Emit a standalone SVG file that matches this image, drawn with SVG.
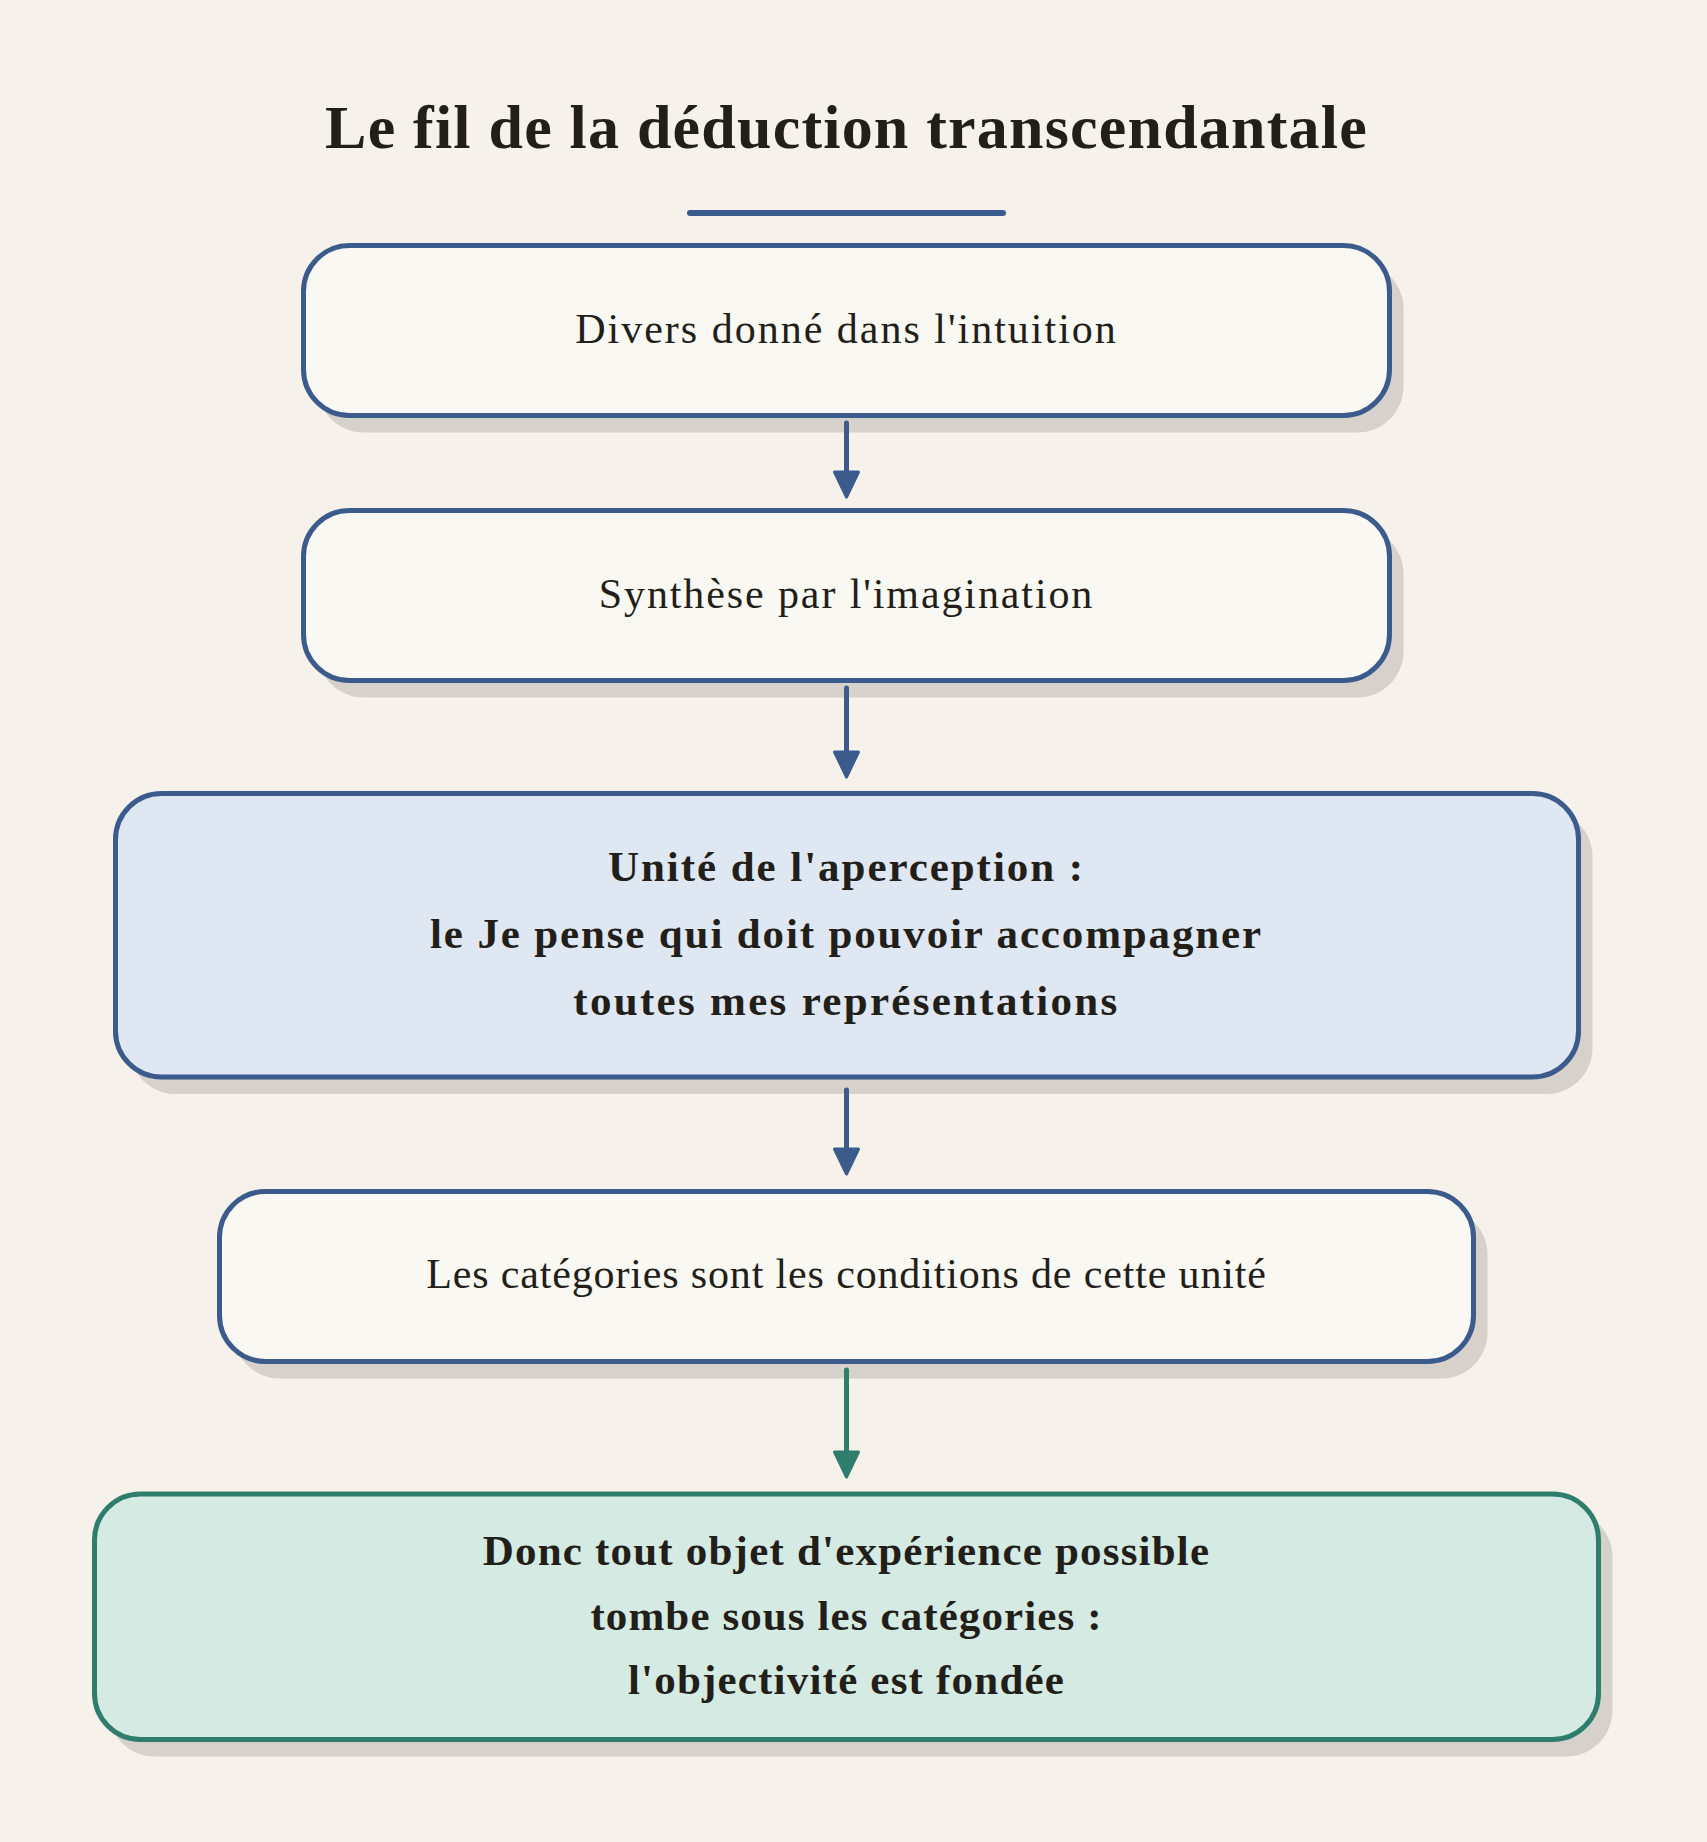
<svg xmlns="http://www.w3.org/2000/svg" width="1707" height="1842" viewBox="0 0 1707 1842">
  <style>
    .bg { fill: #F6F2EB; }
    .shadow { fill: #D6D1CA; }
    .box { fill: #FAF8F2; stroke: #3B5B8C; stroke-width: 5; }
    .box-key { fill: #DFE7F2; stroke: #3B5B8C; stroke-width: 5; }
    .box-end { fill: #D5EAE2; stroke: #2F7D6D; stroke-width: 5; }
    .title { font-family: "Liberation Serif", serif; font-weight: bold; font-size: 62px; letter-spacing: 1.2px; fill: #221E19; text-anchor: middle; }
    .lbl { font-family: "Liberation Serif", serif; font-size: 42px; letter-spacing: 1.3px; fill: #221E19; text-anchor: middle; }
    .lbl-b { font-family: "Liberation Serif", serif; font-weight: bold; font-size: 43px; letter-spacing: 1.6px; fill: #221E19; text-anchor: middle; }
    .edge { fill: none; stroke-width: 5; stroke-linecap: round; }
    .edge-blue { stroke: #3B5B8C; }
    .edge-green { stroke: #2F7D6D; }
  </style>
  <defs>
    <marker id="ah-blue" markerUnits="userSpaceOnUse" viewBox="0 0 30 30" markerWidth="30" markerHeight="30" refX="8" refY="15" orient="auto">
      <path d="M3,3 L28,15 L3,27 Z" fill="#3B5B8C" stroke="#3B5B8C" stroke-width="3" stroke-linejoin="round"/>
    </marker>
    <marker id="ah-green" markerUnits="userSpaceOnUse" viewBox="0 0 30 30" markerWidth="30" markerHeight="30" refX="8" refY="15" orient="auto">
      <path d="M3,3 L28,15 L3,27 Z" fill="#2F7D6D" stroke="#2F7D6D" stroke-width="3" stroke-linejoin="round"/>
    </marker>
  </defs>

  <rect class="bg" x="0" y="0" width="1707" height="1842"/>

  <g id="title">
    <text class="title" x="846.5" y="148">Le fil de la déduction transcendantale</text>
    <line x1="690" y1="213" x2="1003" y2="213" stroke="#3B5B8C" stroke-width="6" stroke-linecap="round"/>
  </g>

  <g id="node-divers">
    <rect class="shadow" x="317.5" y="262.5" width="1086" height="170" rx="46"/>
    <rect class="box" x="303.5" y="245.5" width="1086" height="170" rx="46"/>
    <text class="lbl" x="846.5" y="343" style="letter-spacing:2px">Divers donné dans l'intuition</text>
  </g>

  <g id="node-synthese">
    <rect class="shadow" x="317.5" y="527.5" width="1086" height="170" rx="46"/>
    <rect class="box" x="303.5" y="510.5" width="1086" height="170" rx="46"/>
    <text class="lbl" x="846.5" y="608" style="letter-spacing:1.9px">Synthèse par l'imagination</text>
  </g>

  <g id="node-aperception">
    <rect class="shadow" x="129.5" y="810.5" width="1463" height="283.5" rx="46"/>
    <rect class="box-key" x="115.5" y="793.5" width="1463" height="283.5" rx="46"/>
    <text class="lbl-b" x="846.5" y="881" style="letter-spacing:1.95px">Unité de l'aperception :</text>
    <text class="lbl-b" x="846.5" y="948" style="letter-spacing:1.85px">le Je pense qui doit pouvoir accompagner</text>
    <text class="lbl-b" x="846.5" y="1015" style="letter-spacing:2.3px">toutes mes représentations</text>
  </g>

  <g id="node-categories">
    <rect class="shadow" x="233.5" y="1208.5" width="1254" height="170" rx="46"/>
    <rect class="box" x="219.5" y="1191.5" width="1254" height="170" rx="46"/>
    <text class="lbl" x="846.5" y="1288" style="letter-spacing:0.85px">Les catégories sont les conditions de cette unité</text>
  </g>

  <g id="node-objectivite">
    <rect class="shadow" x="108.5" y="1511" width="1504" height="245.5" rx="46"/>
    <rect class="box-end" x="94.5" y="1494" width="1504" height="245.5" rx="46"/>
    <text class="lbl-b" x="846.5" y="1565" style="letter-spacing:1.2px">Donc tout objet d'expérience possible</text>
    <text class="lbl-b" x="846.5" y="1630" style="letter-spacing:1.1px">tombe sous les catégories :</text>
    <text class="lbl-b" x="846.5" y="1694" style="letter-spacing:1.2px">l'objectivité est fondée</text>
  </g>

  <g id="connectors">
    <line class="edge edge-blue" x1="846.5" y1="423" x2="846.5" y2="477" marker-end="url(#ah-blue)"/>
    <line class="edge edge-blue" x1="846.5" y1="688" x2="846.5" y2="757" marker-end="url(#ah-blue)"/>
    <line class="edge edge-blue" x1="846.5" y1="1090" x2="846.5" y2="1154" marker-end="url(#ah-blue)"/>
    <line class="edge edge-green" x1="846.5" y1="1370" x2="846.5" y2="1457" marker-end="url(#ah-green)"/>
  </g>
</svg>
